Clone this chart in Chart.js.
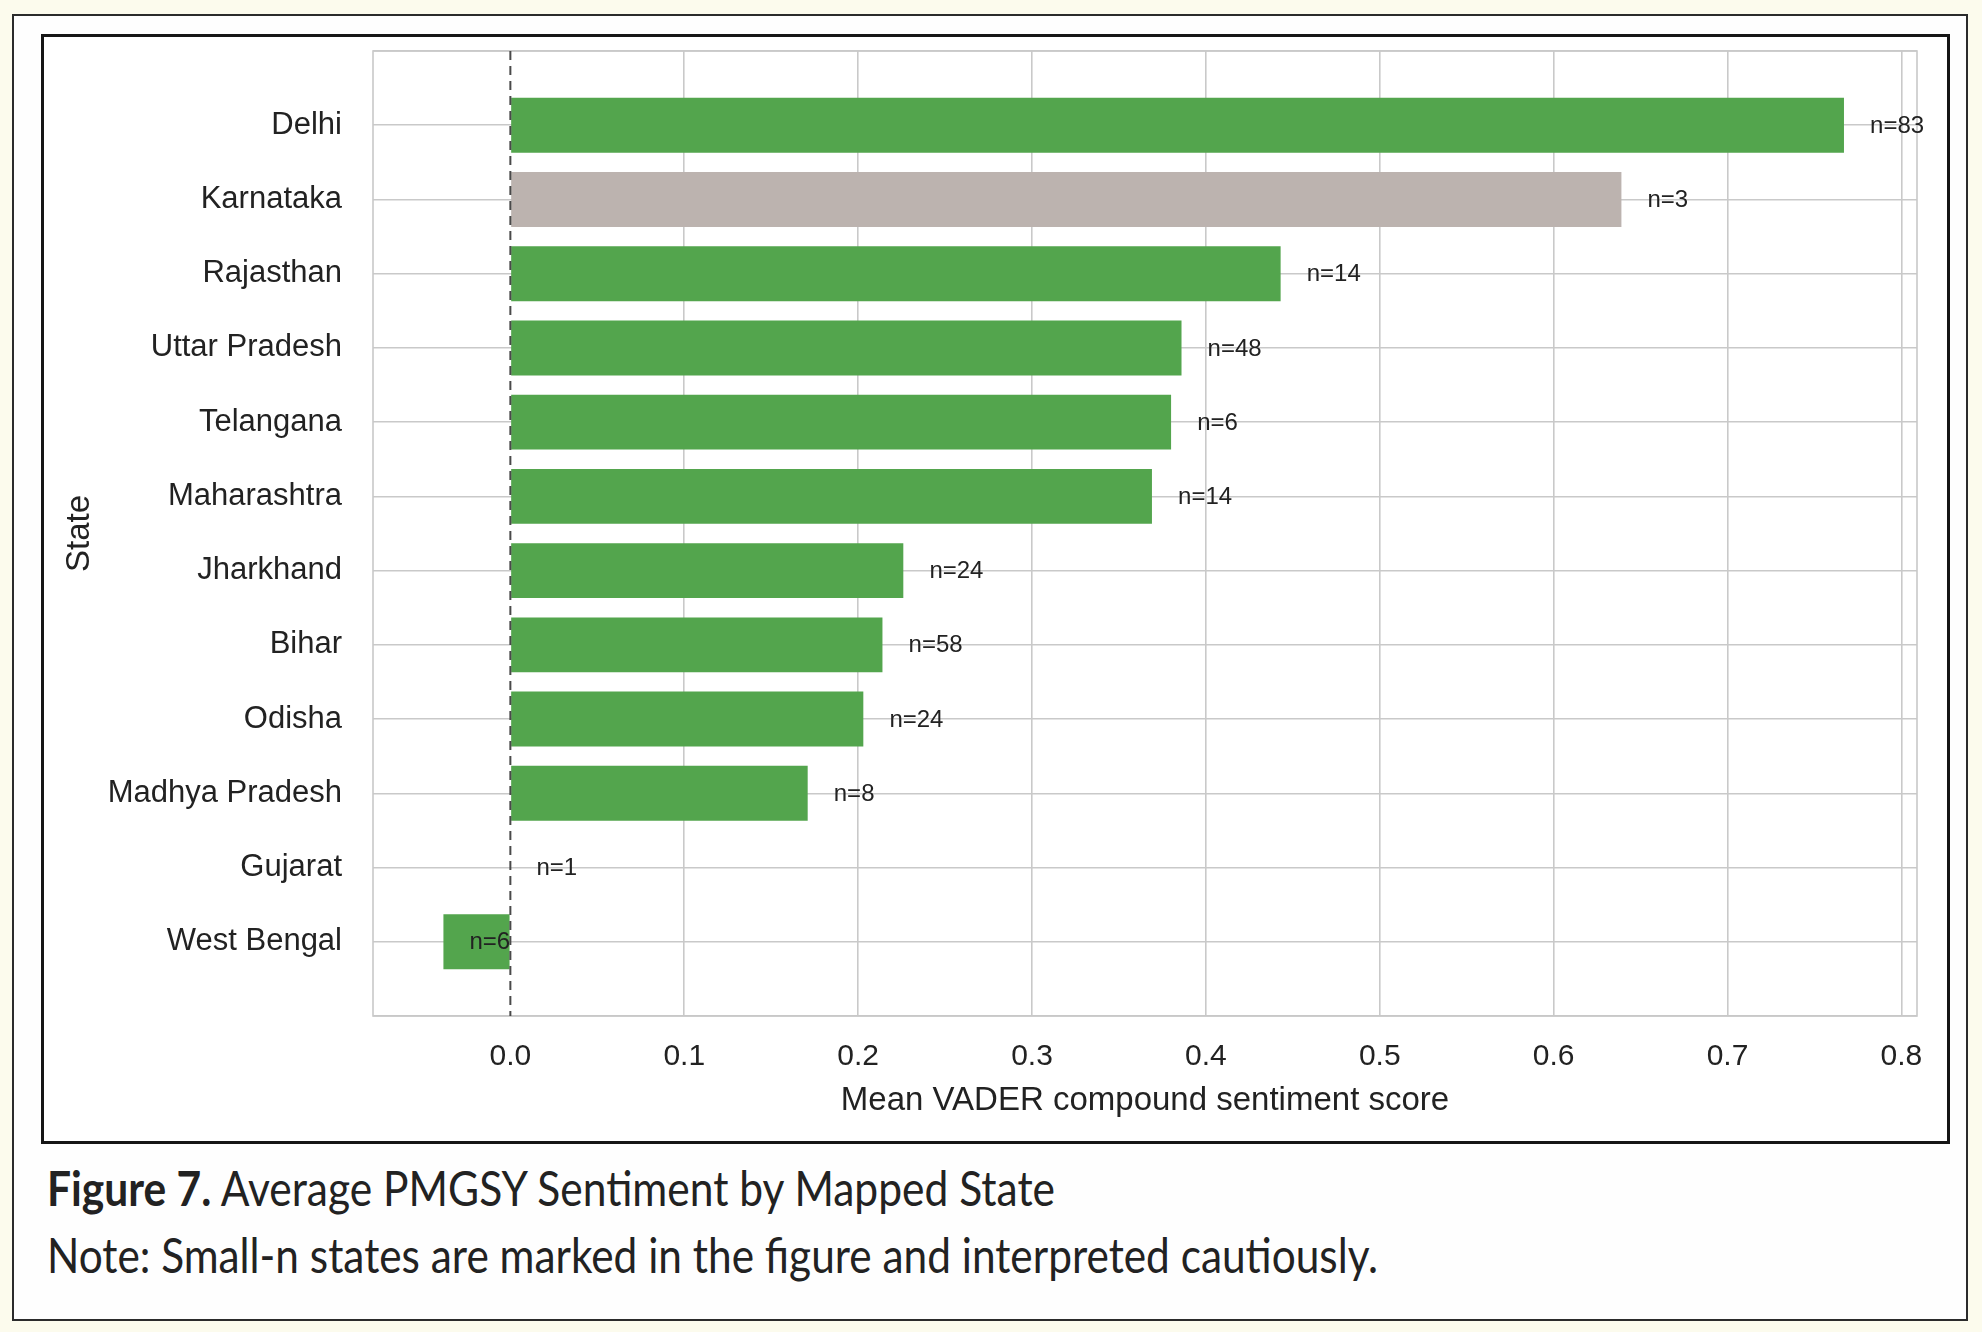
<!DOCTYPE html>
<html>
<head>
<meta charset="utf-8">
<script src="https://cdn.jsdelivr.net/npm/chart.js@4.4.0/dist/chart.umd.min.js"></script>
<style>
  html, body { margin: 0; padding: 0; }
  body {
    width: 1982px; height: 1332px; position: relative; overflow: hidden;
    background: #fcfbed;
    font-family: "Liberation Sans", Arial, sans-serif;
  }
  #frame {
    position: absolute; left: 12px; top: 14px; width: 1956px; height: 1307px;
    box-sizing: border-box; border: 2px solid #2b2b2b; background: #fefefe;
  }
  #box {
    position: absolute; left: 41px; top: 34px; width: 1909px; height: 1110px;
    box-sizing: border-box; border: 3px solid #161616; background: #fff;
  }
  #box canvas { position: absolute; left: 0; top: 0; }
  .cap {
    position: absolute; left: 47px; white-space: nowrap;
    font-family: Lato, "Open Sans", sans-serif; font-size: 48px; line-height: 48px;
    color: #222; transform-origin: 0 0;
  }
  #cap1 { top: 1164px; }
  #cap2 { top: 1231px; }
</style>
</head>
<body>
<div id="frame"></div>
<div id="box"><canvas id="stateChart" width="1903" height="1104"></canvas></div>
<div id="cap1" class="cap"><b>Figure 7.</b> Average PMGSY Sentiment by Mapped State</div>
<div id="cap2" class="cap">Note: Small-n states are marked in the figure and interpreted cautiously.</div>
<script>
// states from top to bottom, as in the figure
const states = ["Delhi", "Karnataka", "Rajasthan", "Uttar Pradesh", "Telangana", "Maharashtra",
  "Jharkhand", "Bihar", "Odisha", "Madhya Pradesh", "Gujarat", "West Bengal"];
const meanScores = [0.767, 0.639, 0.443, 0.386, 0.380, 0.369, 0.226, 0.214, 0.203, 0.171, 0.0, -0.0385];
const counts = [83, 3, 14, 48, 6, 14, 24, 58, 24, 8, 1, 6];
const xTicks = [0.0, 0.1, 0.2, 0.3, 0.4, 0.5, 0.6, 0.7, 0.8];

const smallN = 5; // n below this -> grey bar
const green = "#53a54d";
const grey = "#bcb3af";
const gridColor = "#c9c9c9";
const fontFamily = "'Liberation Sans', Arial, sans-serif";

// one empty slot above and below, like the matplotlib margins
let labels = ["", ...states, ""];
let values = [null, ...meanScores, null];
let colors = ["rgba(0,0,0,0)", ...counts.map((n) => (n < smallN ? grey : green)), "rgba(0,0,0,0)"];

const extrasPlugin = {
  id: "extras",
  beforeDatasetsDraw(chart) {
    let { ctx, chartArea: a } = chart;
    ctx.save();
    ctx.strokeStyle = gridColor;
    ctx.lineWidth = 1.6;
    ctx.strokeRect(a.left, a.top, a.right - a.left, a.bottom - a.top);
    ctx.restore();
  },
  afterDatasetsDraw(chart) {
    let { ctx, chartArea: a, scales } = chart;
    let x0 = scales.x.getPixelForValue(0);
    ctx.save();
    // zero reference line
    ctx.strokeStyle = "#4a4a4a";
    ctx.lineWidth = 2;
    ctx.setLineDash([9, 6]);
    ctx.beginPath();
    ctx.moveTo(x0, a.top);
    ctx.lineTo(x0, a.bottom);
    ctx.stroke();
    ctx.setLineDash([]);
    // n= labels just right of each bar end
    ctx.font = "24px " + fontFamily;
    ctx.fillStyle = "#222";
    ctx.textAlign = "left";
    ctx.textBaseline = "middle";
    states.forEach((s, i) => {
      let x = scales.x.getPixelForValue(meanScores[i] + 0.015);
      let y = scales.y.getPixelForValue(i + 1);
      ctx.fillText("n=" + counts[i], x, y + 1);
    });
    ctx.restore();
  },
};

let ctx = document.getElementById("stateChart").getContext("2d");
let myChart = new Chart(ctx, {
  type: "bar",
  data: {
    labels: labels,
    datasets: [
      {
        label: "Mean sentiment",
        data: values,
        backgroundColor: colors,
        borderWidth: 0,
        categoryPercentage: 0.74,
        barPercentage: 1.0,
      },
    ],
  },
  options: {
    indexAxis: "y",
    responsive: false,
    devicePixelRatio: 1,
    animation: false,
    layout: { padding: { left: 0, top: 14, right: 30, bottom: 0 } },
    plugins: {
      legend: { display: false },
      tooltip: { enabled: false },
    },
    scales: {
      x: {
        type: "linear",
        min: -0.079,
        max: 0.809,
        afterBuildTicks: (scale) => {
          scale.ticks = xTicks.map((v) => ({ value: v }));
        },
        afterFit: (scale) => {
          scale.height = 125;
        },
        ticks: {
          padding: 23,
          color: "#222",
          font: { size: 30, family: fontFamily },
          callback: (v) => Number(v).toFixed(1),
        },
        grid: {
          drawTicks: false,
          lineWidth: 1.6,
          color: (c) => (c.tick && c.tick.value === 0 ? "rgba(0,0,0,0)" : gridColor),
        },
        border: { display: false },
        title: {
          display: true,
          text: "Mean VADER compound sentiment score",
          color: "#222",
          font: { size: 33, family: fontFamily },
          padding: { top: 0, bottom: 20 },
        },
      },
      y: {
        type: "category",
        offset: false,
        afterFit: (scale) => {
          scale.width = 329;
          // the empty end labels should not push the plot down
          scale.paddingTop = 0;
          scale.paddingBottom = 0;
        },
        ticks: {
          autoSkip: false,
          padding: 31,
          color: "#222",
          font: { size: 31, family: fontFamily },
        },
        grid: {
          offset: false,
          drawTicks: false,
          lineWidth: 1.6,
          color: gridColor,
        },
        border: { display: false },
        title: {
          display: true,
          text: "State",
          color: "#222",
          font: { size: 33, family: fontFamily },
          padding: { top: 16, bottom: 0 },
        },
      },
    },
  },
  plugins: [extrasPlugin],
});

// squeeze the caption lines to the width they have in the figure
[["cap1", 1008], ["cap2", 1331]].forEach(([id, w]) => {
  let el = document.getElementById(id);
  let cur = el.getBoundingClientRect().width;
  el.style.transform = "scaleX(" + (w / cur) + ")";
});
</script>
</body>
</html>
